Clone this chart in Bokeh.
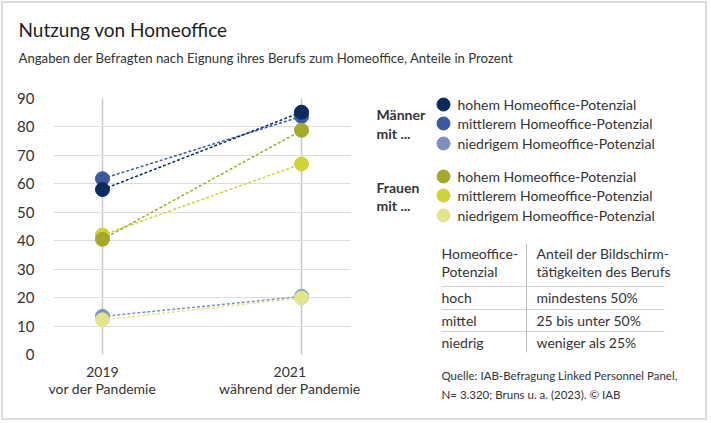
from bokeh.plotting import figure
from bokeh.layouts import column, row
from bokeh.models import Range1d, FixedTicker
from bokeh.core.properties import value
from bokeh.embed import file_html
from bokeh.resources import INLINE

FONT = "Lato"

# ---------------- data ----------------
years = ["2019", "2021"]
periods = ["vor der Pandemie", "während der Pandemie"]
x_pos = [0, 1]

men_high = [58, 85.2]
men_mid = [61.8, 83.7]
men_low = [13.4, 20.4]
women_high = [40.5, 78.8]
women_mid = [42.0, 67.0]
women_low = [12.2, 19.9]

y_ticks = [0, 10, 20, 30, 40, 50, 60, 70, 80, 90]

title = "Nutzung von Homeoffice"
subtitle = "Angaben der Befragten nach Eignung ihres Berufs zum Homeoffice, Anteile in Prozent"

group_labels = ["Männer", "Frauen"]
level_labels = ["hohem Homeoffice-Potenzial", "mittlerem Homeoffice-Potenzial",
                "niedrigem Homeoffice-Potenzial"]

table_head = [["Homeoffice-", "Potenzial"], ["Anteil der Bildschirm-", "tätigkeiten des Berufs"]]
table_col1 = ["hoch", "mittel", "niedrig"]
table_col2 = ["mindestens 50%", "25 bis unter 50%", "weniger als 25%"]

source_lines = ["Quelle:  IAB-Befragung Linked Personnel Panel,",
                "N= 3.320;  Bruns u. a. (2023). © IAB"]

men_colors = ["#0b2a5e", "#3a5a9b", "#7f8fc0"]
women_colors = ["#a5a92a", "#cfd334", "#e3e58e"]

TEXT = "#333333"


def blank(fig):
    fig.axis.visible = False
    fig.grid.visible = False
    fig.outline_line_color = None


def txt(fig, xs, ys, texts, size="14px", style="normal", color=TEXT):
    fig.text(x=xs, y=ys, text=texts, text_font=value(FONT), text_font_size=value(size),
             text_font_style=style, text_color=color, text_baseline="middle",
             text_align="left")


# ---------------- title figure ----------------
TW, TH = 702, 75
pt = figure(width=TW, height=TH, x_range=Range1d(0, TW), y_range=Range1d(TH, 0),
            toolbar_location=None, output_backend="svg", min_border=0)
blank(pt)
txt(pt, [15], [26], [title], size="19px", color="#1e1e1e")
txt(pt, [15], [54], [subtitle], size="13.2px")

# ---------------- chart figure ----------------
p = figure(width=357, height=340, x_range=Range1d(-0.246, 1.246), y_range=Range1d(0, 90),
           toolbar_location=None, output_backend="svg",
           min_border_left=50, min_border_right=10, min_border_top=20, min_border_bottom=64)
p.outline_line_color = None
p.background_fill_color = "white"

p.yaxis.ticker = FixedTicker(ticks=y_ticks)
p.xaxis.ticker = FixedTicker(ticks=x_pos)
p.xaxis.major_label_overrides = {x: f"{y}\n{per}" for x, y, per in zip(x_pos, years, periods)}
for ax in (p.xaxis, p.yaxis):
    ax.axis_line_color = None
    ax.major_tick_line_color = None
    ax.minor_tick_line_color = None
    ax.major_label_text_font = FONT
    ax.major_label_text_color = TEXT
p.yaxis.major_label_text_font_size = "15px"
p.xaxis.major_label_text_font_size = "14px"
p.xaxis.major_label_text_line_height = 1.0
p.yaxis.major_label_standoff = 13
p.xaxis.major_label_standoff = 2

p.ygrid.grid_line_color = "#dcdcdc"
p.ygrid.grid_line_width = 1.2
p.xgrid.grid_line_color = "#c8c8c8"
p.xgrid.grid_line_width = 1.5

series = [
    (men_low, men_colors[2]),
    (women_low, women_colors[2]),
    (men_mid, men_colors[1]),
    (men_high, men_colors[0]),
    (women_mid, women_colors[1]),
    (women_high, women_colors[0]),
]
for vals, col in series:
    p.line(x_pos, vals, line_color=col, line_width=1.5, line_dash="3 2")
    p.scatter(x_pos, vals, size=14, fill_color=col, line_color=col)

# ---------------- side figure (legend + table + source) ----------------
SW, SH = 345, 340
ps = figure(width=SW, height=SH, x_range=Range1d(0, SW), y_range=Range1d(SH, 0),
            toolbar_location=None, output_backend="svg", min_border=0)
blank(ps)

row_y = [[26, 45, 65], [98, 117, 137]]
group_y = [[36, 55], [109, 127]]
for g, (gname, cols) in enumerate(zip(group_labels, [men_colors, women_colors])):
    txt(ps, [16, 16], group_y[g], [gname, "mit ..."], style="bold")
    ps.scatter(x=[83] * 3, y=row_y[g], size=13, fill_color=cols, line_color=cols)
    txt(ps, [97] * 3, row_y[g], level_labels)

# table
txt(ps, [81, 81], [175, 193], table_head[0])
txt(ps, [176, 176], [175, 193], table_head[1])
ps.segment(x0=[81] * 3, y0=[208, 231, 253], x1=[304] * 3, y1=[208, 231, 253],
           line_color="#cfcfcf", line_width=1.2)
ps.segment(x0=[166], y0=[165], x1=[166], y1=[274], line_color="#bdbdbd", line_width=1)
txt(ps, [81] * 3, [219, 242, 264], table_col1)
txt(ps, [176] * 3, [219, 242, 264], table_col2)

txt(ps, [81, 81], [297, 316], source_lines, size="11.5px")

layout = column(pt, row(p, column(ps)),
                styles={"border": "2px solid #dcdcdc", "margin-left": "1px", "margin-top": "1px"})

open("out.html", "w").write(file_html(layout, INLINE))
